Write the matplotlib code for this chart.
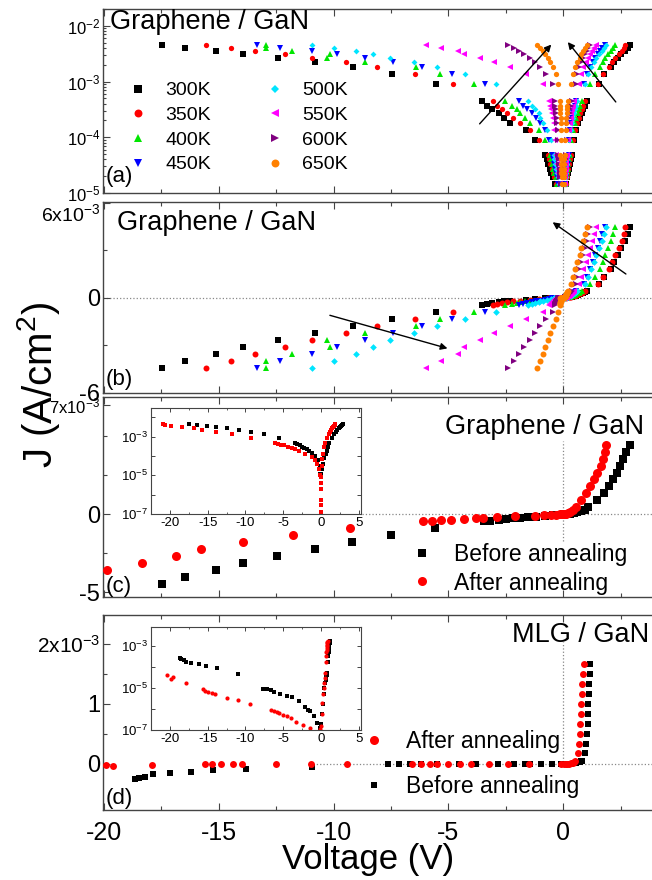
import matplotlib
matplotlib.use("Agg")
import matplotlib.pyplot as plt
from matplotlib.ticker import MultipleLocator, LogLocator, NullFormatter, FixedLocator
import numpy as np

plt.rcParams['font.family'] = ['Liberation Sans', 'DejaVu Sans']
plt.rcParams['mathtext.fontset'] = 'custom'
plt.rcParams['mathtext.rm'] = 'Liberation Sans'
plt.rcParams['mathtext.it'] = 'Liberation Sans:italic'
plt.rcParams['mathtext.bf'] = 'Liberation Sans:bold'
plt.rcParams['axes.unicode_minus'] = False

# ---------------- data (J in units of 1e-3 A/cm2, V in volts) ----------------
temps = ['300K', '350K', '400K', '450K', '500K', '550K', '600K', '650K']
t_colors = ['#000000', '#ff0000', '#00e600', '#0000ff', '#00e5ff', '#ff00ff', '#800080', '#ff8000']
t_markers = ['s', 'o', '^', 'v', 'D', '<', '>', 'o']

# current levels shared by all temperatures (reverse = -level, forward = +level)
j_levels = [4.47, 4.02, 3.57, 3.12, 2.68, 2.24, 1.79, 1.34, 0.89,
            0.45, 0.37, 0.32, 0.27, 0.22, 0.18, 0.135, 0.091,
            0.048, 0.040, 0.033, 0.0275, 0.023, 0.019, 0.0145]

v_rev_300 = [-17.46, -16.45, -15.13, -13.94, -12.43, -10.81, -9.15, -7.47, -5.55,
             -3.54, -3.32, -3.10, -2.81, -2.59, -2.30, -1.61, -1.22,
             -0.78, -0.72, -0.65, -0.58, -0.52, -0.45, -0.35]
v_fwd_300 = [2.91, 2.80, 2.68, 2.53, 2.37, 2.21, 2.06, 1.79, 1.56,
             1.03, 0.95, 0.88, 0.80, 0.72, 0.65, 0.55, 0.45,
             0.37, 0.33, 0.29, 0.25, 0.21, 0.17, 0.13]
v_rev_350 = [-15.55, -14.48, -13.40, -12.10, -10.94, -9.44, -8.09, -6.46, -4.80,
             -3.06, -2.88, -2.67, -2.45, -2.19, -1.90, -1.45, -1.05,
             -0.68, -0.62, -0.56, -0.50, -0.45, -0.39, -0.30]
v_fwd_350 = [2.68, 2.63, 2.55, 2.42, 2.26, 2.14, 2.00, 1.75, 1.52,
             0.95, 0.88, 0.81, 0.74, 0.67, 0.60, 0.51, 0.42,
             0.32, 0.29, 0.25, 0.22, 0.18, 0.15, 0.11]
v_rev_400 = [-12.96, -12.96, -11.82, -10.16, -10.27, -8.65, -6.43, -5.38, -3.90,
             -2.55, -2.25, -2.03, -1.90, -1.65, -1.43, -1.05, -0.80,
             -0.58, -0.53, -0.48, -0.43, -0.38, -0.33, -0.26]
v_fwd_400 = [2.26, 2.18, 2.06, 1.95, 1.83, 1.75, 1.60, 1.40, 1.17,
             0.81, 0.75, 0.69, 0.63, 0.57, 0.51, 0.44, 0.36,
             0.28, 0.25, 0.22, 0.19, 0.16, 0.13, 0.10]
v_rev_450 = [-13.35, -12.34, -10.94, -9.85, -8.65, -7.41, -6.17, -4.85, -3.41,
             -1.94, -1.75, -1.58, -1.36, -1.19, -1.00, -0.80, -0.62,
             -0.50, -0.46, -0.42, -0.37, -0.33, -0.29, -0.22]
v_fwd_450 = [1.82, 1.70, 1.62, 1.52, 1.40, 1.30, 1.16, 1.02, 0.90,
             0.55, 0.51, 0.47, 0.43, 0.39, 0.35, 0.30, 0.25,
             0.24, 0.21, 0.19, 0.16, 0.14, 0.11, 0.09]
v_rev_500 = [-10.94, -10.00, -9.04, -8.29, -7.55, -6.48, -5.50, -4.26, -2.91,
             -1.55, -1.36, -1.22, -1.07, -1.00, -0.86, -0.70, -0.55,
             -0.42, -0.38, -0.35, -0.31, -0.28, -0.24, -0.18]
v_fwd_500 = [1.87, 1.76, 1.67, 1.56, 1.44, 1.33, 1.20, 1.06, 0.96,
             0.59, 0.55, 0.51, 0.46, 0.42, 0.38, 0.32, 0.27,
             0.20, 0.18, 0.16, 0.14, 0.12, 0.10, 0.08]
v_rev_550 = [-5.97, -5.30, -4.57, -4.31, -3.64, -3.02, -2.32, -1.62, -0.87,
             -0.62, -0.58, -0.54, -0.50, -0.46, -0.42, -0.38, -0.34,
             -0.32, -0.29, -0.27, -0.24, -0.21, -0.18, -0.14]
v_fwd_550 = [1.42, 1.33, 1.25, 1.15, 1.06, 0.98, 0.88, 0.78, 0.68,
             0.45, 0.42, 0.38, 0.35, 0.32, 0.28, 0.24, 0.20,
             0.15, 0.14, 0.12, 0.11, 0.09, 0.08, 0.06]
v_rev_600 = [-2.40, -2.16, -1.93, -1.70, -1.46, -1.23, -1.00, -0.73, -0.45,
             -0.36, -0.34, -0.32, -0.30, -0.28, -0.26, -0.24, -0.22,
             -0.22, -0.20, -0.18, -0.16, -0.14, -0.12, -0.10]
v_fwd_600 = [1.18, 1.10, 1.02, 0.95, 0.87, 0.79, 0.70, 0.62, 0.54,
             0.37, 0.34, 0.31, 0.28, 0.25, 0.22, 0.19, 0.15,
             0.11, 0.10, 0.09, 0.08, 0.07, 0.06, 0.05]
v_rev_650 = [-1.15, -1.03, -0.89, -0.79, -0.68, -0.56, -0.45, -0.33, -0.22,
             -0.15, -0.14, -0.13, -0.12, -0.11, -0.10, -0.09, -0.08,
             -0.12, -0.11, -0.10, -0.09, -0.08, -0.07, -0.06]
v_fwd_650 = [1.02, 0.94, 0.86, 0.79, 0.71, 0.60, 0.50, 0.43, 0.35,
             0.20, 0.18, 0.17, 0.15, 0.13, 0.12, 0.10, 0.08,
             0.06, 0.055, 0.05, 0.045, 0.04, 0.035, 0.03]

v_rev = [v_rev_300, v_rev_350, v_rev_400, v_rev_450, v_rev_500, v_rev_550, v_rev_600, v_rev_650]
v_fwd = [v_fwd_300, v_fwd_350, v_fwd_400, v_fwd_450, v_fwd_500, v_fwd_550, v_fwd_600, v_fwd_650]

# panel (c): graphene / GaN before and after annealing
v_c_before = [-17.49, -16.45, -15.13, -13.96, -12.46, -10.83, -9.20, -7.52, -5.58,
              -3.47, -3.19, -2.80, -2.49, -2.18, -1.87, -1.53, -1.17, -0.80, -0.45, -0.15, -0.08,
              0.05, 0.15, 0.31, 0.46, 0.62, 0.78, 0.93, 1.09,
              1.48, 1.79, 1.99, 2.18, 2.35, 2.49, 2.61, 2.75, 2.91]
j_c_before = [-4.47, -4.02, -3.57, -3.12, -2.68, -2.24, -1.79, -1.34, -0.89,
              -0.46, -0.40, -0.35, -0.30, -0.26, -0.22, -0.18, -0.14, -0.10, -0.06, -0.03, -0.012,
              0.012, 0.02, 0.04, 0.08, 0.13, 0.19, 0.30, 0.45,
              0.89, 1.34, 1.79, 2.24, 2.68, 3.12, 3.57, 4.02, 4.47]
v_c_after = [-20.9, -20.6, -19.85, -18.35, -16.84, -15.78, -13.93, -11.76, -9.29, -6.12,
             -5.70, -5.31, -4.88, -4.33, -3.79, -3.48, -2.87, -2.10, -1.24, -0.85, -0.54,
             -0.31, -0.16, -0.06, -0.02, 0.0,
             0.01, 0.03, 0.06, 0.12, 0.20, 0.31, 0.42, 0.54, 0.78, 1.01, 1.17, 1.33,
             1.48, 1.64, 1.75, 1.80, 1.87]
j_c_after = [-4.47, -4.02, -3.57, -3.12, -2.68, -2.24, -1.79, -1.34, -0.89, -0.46,
             -0.43, -0.39, -0.35, -0.30, -0.26, -0.22, -0.17, -0.13, -0.09, -0.06, -0.04,
             -0.02, -0.01, -0.004, -0.0005, -0.00012,
             0.0003, 0.002, 0.008, 0.03, 0.07, 0.13, 0.28, 0.45, 0.89, 1.34, 1.79, 2.24,
             2.68, 3.12, 3.57, 4.02, 4.47]

# panel (d): MLG / GaN before and after annealing
v_d_before = [-18.66, -18.47, -18.19, -17.85, -17.14, -16.19, -15.24, -13.81, -10.95,
              -7.62, -7.14, -6.67, -6.19, -5.48, -4.53, -3.81, -2.86, -2.14, -1.67,
              -1.43, -0.95, -0.48, -0.10,
              0.05, 0.15, 0.25, 0.35, 0.45, 0.55, 0.65, 0.72, 0.78,
              0.83, 0.94, 0.99, 1.04, 1.07, 1.08, 1.10, 1.12, 1.13, 1.15, 1.16]
j_d_before = [-0.257, -0.24, -0.214, -0.178, -0.158, -0.138, -0.110, -0.085, -0.048,
              -0.0089, -0.0085, -0.0076, -0.0063, -0.0052, -0.0043, -0.0036, -0.0025, -0.0012, -0.00088,
              -0.00076, -0.00047, -0.00022, -0.00012,
              0.0002, 0.0006, 0.0018, 0.005, 0.010, 0.017, 0.025, 0.033, 0.042,
              0.05, 0.178, 0.328, 0.494, 0.661, 0.828, 0.994, 1.161, 1.328, 1.494, 1.667]
v_d_after = [-20.4, -19.9, -19.6, -17.9, -15.6, -15.3, -14.9, -14.4, -14.0, -12.5, -11.0,
             -9.4, -6.6, -6.2, -5.8, -5.5, -5.0, -4.5, -4.0, -3.25, -2.4, -1.5, -0.1,
             0.03, 0.10, 0.18, 0.26, 0.34, 0.42, 0.48, 0.52,
             0.63, 0.67, 0.71, 0.75, 0.76, 0.79, 0.81, 0.83, 0.86, 0.89]
j_d_after = [-0.040, -0.0275, -0.033, -0.0166, -0.0085, -0.0074, -0.0068, -0.0059, -0.0051, -0.0032, -0.0026,
             -0.0017, -0.00093, -0.00083, -0.00072, -0.00062, -0.00054, -0.00045, -0.00037, -0.00025,
             -0.00017, -0.00012, -0.00011,
             0.00015, 0.0006, 0.002, 0.005, 0.010, 0.018, 0.03, 0.05,
             0.178, 0.328, 0.494, 0.661, 0.828, 0.994, 1.161, 1.328, 1.494, 1.667]

# ---------------- figure ----------------
W, H = 652, 880
fig = plt.figure(figsize=(W / 100, H / 100), dpi=100)


def px_axes(left, top, right, bottom):
    return fig.add_axes([left / W, 1 - bottom / H, (right - left) / W, (bottom - top) / H])


ax_a = px_axes(103, 9, 653, 193)
ax_b = px_axes(103, 202, 653, 393)
ax_c = px_axes(103, 397, 653, 597)
ax_d = px_axes(103, 615, 653, 810)

FRAME = '#444444'


def style_main(ax, bottom_labels=False):
    for s in ax.spines.values():
        s.set_color(FRAME)
        s.set_linewidth(1.0)
    ax.spines['right'].set_visible(False)
    ax.set_xlim(-20.04, 3.91)
    ax.xaxis.set_major_locator(MultipleLocator(5))
    ax.xaxis.set_minor_locator(MultipleLocator(2.5))
    ax.tick_params(which='both', direction='in', top=True, right=False,
                   color=FRAME, labelbottom=bottom_labels)
    ax.tick_params(which='major', length=5, width=0.8, pad=2)
    ax.tick_params(which='minor', length=3, width=0.8)


for ax in (ax_a, ax_b, ax_c):
    style_main(ax)
style_main(ax_d, bottom_labels=True)
ax_d.tick_params(axis='x', labelsize=18, pad=8)
ax_d.set_xticks([-20, -15, -10, -5, 0])
ax_d.set_xticklabels(['-20', '-15', '-10', '-5', '0'])

# ---- (a) log |J| ----
levels = np.array(j_levels) * 1e-3
handles_a = []
for T, c, m, vr, vf in zip(temps, t_colors, t_markers, v_rev, v_fwd):
    ms = 3.0 if m == 'D' else 3.8
    h, = ax_a.plot(vr + vf, np.concatenate([levels, levels]), ls='none', marker=m,
                   color=c, ms=ms, mew=0, label=T)
    handles_a.append(h)
ax_a.set_yscale('log')
ax_a.set_ylim(1e-5, 2.0e-2)
ax_a.set_yticks([1e-5, 1e-4, 1e-3, 1e-2])
ax_a.set_yticklabels([r'10$^{-5}$', r'10$^{-4}$', r'10$^{-3}$', r'10$^{-2}$'], fontsize=12)
ax_a.yaxis.set_minor_locator(LogLocator(base=10, subs=np.arange(2, 10)))
ax_a.yaxis.set_minor_formatter(NullFormatter())
ax_a.tick_params(axis='y', which='minor', length=2)
ax_a.legend(handles=handles_a, ncol=2, frameon=False, fontsize=14, loc='upper left',
            bbox_to_anchor=(0.046, 0.604), borderpad=0, borderaxespad=0,
            handlelength=1.0, handletextpad=0.9, columnspacing=2.8,
            labelspacing=0.36, markerscale=1.5)
ax_a.text(0.013, 0.93, 'Graphene / GaN', transform=ax_a.transAxes, fontsize=19.5,
          ha='left', va='center')
ax_a.text(0.005, 0.087, '(a)', transform=ax_a.transAxes, fontsize=16, ha='left', va='center')
ax_a.annotate('', xy=(-0.52, 4.6e-3), xytext=(-3.64, 1.74e-4),
              arrowprops=dict(arrowstyle='-|>', color='k', lw=1.0, mutation_scale=10,
                              shrinkA=0, shrinkB=0))
ax_a.annotate('', xy=(0.20, 5.1e-3), xytext=(2.29, 4.3e-4),
              arrowprops=dict(arrowstyle='-|>', color='k', lw=1.0, mutation_scale=10,
                              shrinkA=0, shrinkB=0))

# ---- (b) linear J ----
for T, c, m, vr, vf in zip(temps, t_colors, t_markers, v_rev, v_fwd):
    ms = 3.4 if m == 'D' else 4.3
    ax_b.plot(vr + vf, np.concatenate([-levels, levels]), ls='none', marker=m,
              color=c, ms=ms, mew=0, zorder=3)
ax_b.axhline(0, color='#888888', ls=':', lw=0.9, zorder=1)
ax_b.axvline(0, color='#888888', ls=':', lw=0.9, zorder=1)
ax_b.set_ylim(-6.02e-3, 6.05e-3)
ax_b.set_yticks([-6e-3, 0, 6e-3])
labs = ax_b.set_yticklabels(['-6', '0', r'6x10$^{-3}$'])
for lab, fs in zip(labs, [17, 17, 14]):
    lab.set_fontsize(fs)
labs[2].set_va('top')
ax_b.yaxis.set_minor_locator(FixedLocator([-3e-3, 3e-3]))
ax_b.text(0.025, 0.89, 'Graphene / GaN', transform=ax_b.transAxes, fontsize=19.5,
          ha='left', va='center')
ax_b.text(0.005, 0.073, '(b)', transform=ax_b.transAxes, fontsize=16, ha='left', va='center')
ax_b.annotate('', xy=(-5.04, -3.2e-3), xytext=(-10.16, -1.11e-3),
              arrowprops=dict(arrowstyle='-|>', color='k', lw=1.0, mutation_scale=10,
                              shrinkA=0, shrinkB=0))
ax_b.annotate('', xy=(-0.46, 4.77e-3), xytext=(2.73, 1.5e-3),
              arrowprops=dict(arrowstyle='-|>', color='k', lw=1.0, mutation_scale=10,
                              shrinkA=0, shrinkB=0))

# ---- (c) ----
jcb = np.array(j_c_before) * 1e-3
jca = np.array(j_c_after) * 1e-3
hb_c, = ax_c.plot(v_c_before, jcb, ls='none', marker='s', color='k', ms=5.8, mew=0,
                  label='Before annealing', zorder=3)
ha_c, = ax_c.plot(v_c_after, jca, ls='none', marker='o', color='#ff0000', ms=6.5, mew=0,
                  label='After annealing', zorder=3)
ax_c.axhline(0, xmin=0.47, color='#888888', ls=':', lw=0.9, zorder=1)
ax_c.axvline(0, ymin=0.28, ymax=0.78, color='#888888', ls=':', lw=0.9, zorder=1)
ax_c.set_ylim(-5.30e-3, 7.52e-3)
ax_c.set_yticks([-5e-3, 0, 7e-3])
labs = ax_c.set_yticklabels(['-5', '0', r'7x10$^{-3}$'])
for lab, fs in zip(labs, [17, 17, 12]):
    lab.set_fontsize(fs)
ax_c.yaxis.set_minor_locator(FixedLocator([-2.5e-3, 2.5e-3, 5e-3]))
ax_c.text(0.983, 0.851, 'Graphene / GaN', transform=ax_c.transAxes, fontsize=19.5,
          ha='right', va='center')
ax_c.text(0.005, 0.055, '(c)', transform=ax_c.transAxes, fontsize=16, ha='left', va='center')
ax_c.legend(handles=[hb_c, ha_c], frameon=False, fontsize=16.5, loc='upper left',
            bbox_to_anchor=(0.559, 0.27), borderpad=0, borderaxespad=0,
            handlelength=1.0, handletextpad=0.9, labelspacing=0.24)

# ---- (d) ----
jdb = np.array(j_d_before) * 1e-3
jda = np.array(j_d_after) * 1e-3
hb_d, = ax_d.plot(v_d_before, jdb, ls='none', marker='s', color='k', ms=5.0, mew=0,
                  label='Before annealing', zorder=3)
ha_d, = ax_d.plot(v_d_after, jda, ls='none', marker='o', color='#ff0000', ms=5.0, mew=0,
                  label='After annealing', zorder=3)
ax_d.axhline(0, xmin=0.382, color='#888888', ls=':', lw=0.9, zorder=1)
ax_d.axvline(0, ymin=0.23, ymax=0.863, color='#888888', ls=':', lw=0.9, zorder=1)
ax_d.set_ylim(-0.77e-3, 2.48e-3)
ax_d.set_yticks([0, 1e-3, 2e-3])
labs = ax_d.set_yticklabels(['0', '1', r'2x10$^{-3}$'])
for lab, fs in zip(labs, [17, 17, 15]):
    lab.set_fontsize(fs)
ax_d.yaxis.set_minor_locator(FixedLocator([0.5e-3, 1.5e-3]))
ax_d.text(0.993, 0.897, 'MLG / GaN', transform=ax_d.transAxes, fontsize=19.5,
          ha='right', va='center')
ax_d.text(0.005, 0.06, '(d)', transform=ax_d.transAxes, fontsize=16, ha='left', va='center')
leg_d = ax_d.legend(handles=[ha_d, hb_d], frameon=False, fontsize=16.5, loc='upper left',
                    bbox_to_anchor=(0.472, 0.41), borderpad=0, borderaxespad=0,
                    handlelength=1.0, handletextpad=0.9, labelspacing=0.94)
leg_d.legend_handles[0].set_markersize(6.5)

# ---- insets ----
in_c = px_axes(151, 408, 361, 514)
in_d = px_axes(151, 627, 361, 730)


def style_inset(ax, ylim):
    for s in ax.spines.values():
        s.set_color(FRAME)
        s.set_linewidth(0.8)
    ax.set_yscale('log')
    ax.set_xlim(-22.5, 5.3)
    ax.set_ylim(*ylim)
    ax.set_xticks([-20, -15, -10, -5, 0, 5])
    ax.set_xticklabels(['-20', '-15', '-10', '-5', '0', '5'], fontsize=9.5)
    ax.xaxis.set_minor_locator(MultipleLocator(2.5))
    ax.yaxis.set_major_locator(FixedLocator([1e-7, 1e-6, 1e-5, 1e-4, 1e-3, 1e-2]))
    ax.set_yticklabels([r'10$^{-7}$', '', r'10$^{-5}$', '', r'10$^{-3}$', ''], fontsize=9.5)
    ax.yaxis.set_minor_locator(LogLocator(base=10, subs=np.arange(2, 10)))
    ax.yaxis.set_minor_formatter(NullFormatter())
    ax.tick_params(which='both', direction='in', top=True, right=True, color=FRAME, pad=2)
    ax.tick_params(which='major', length=3, width=0.7)
    ax.tick_params(which='minor', length=1.5, width=0.6)


style_inset(in_c, (1e-7, 3e-2))
in_c.plot(v_c_before, np.abs(jcb), ls='none', marker='s', color='k', ms=2.8, mew=0)
in_c.plot(v_c_after, np.abs(jca), ls='none', marker='s', color='#ff0000', ms=2.8, mew=0)

style_inset(in_d, (1e-7, 8e-3))
in_d.plot(v_d_before, np.abs(jdb), ls='none', marker='s', color='k', ms=2.8, mew=0)
in_d.plot(v_d_after, np.abs(jda), ls='none', marker='o', color='#ff0000', ms=3.0, mew=0)

# ---- axis titles ----
fig.text(38 / W, 1 - 385 / H, r'J (A/cm$^{2}$)', rotation=90, fontsize=29,
         ha='center', va='center')
fig.text(368 / W, 1 - 859 / H, 'Voltage (V)', fontsize=25, ha='center', va='center')

fig.savefig('out.png', dpi=100)
